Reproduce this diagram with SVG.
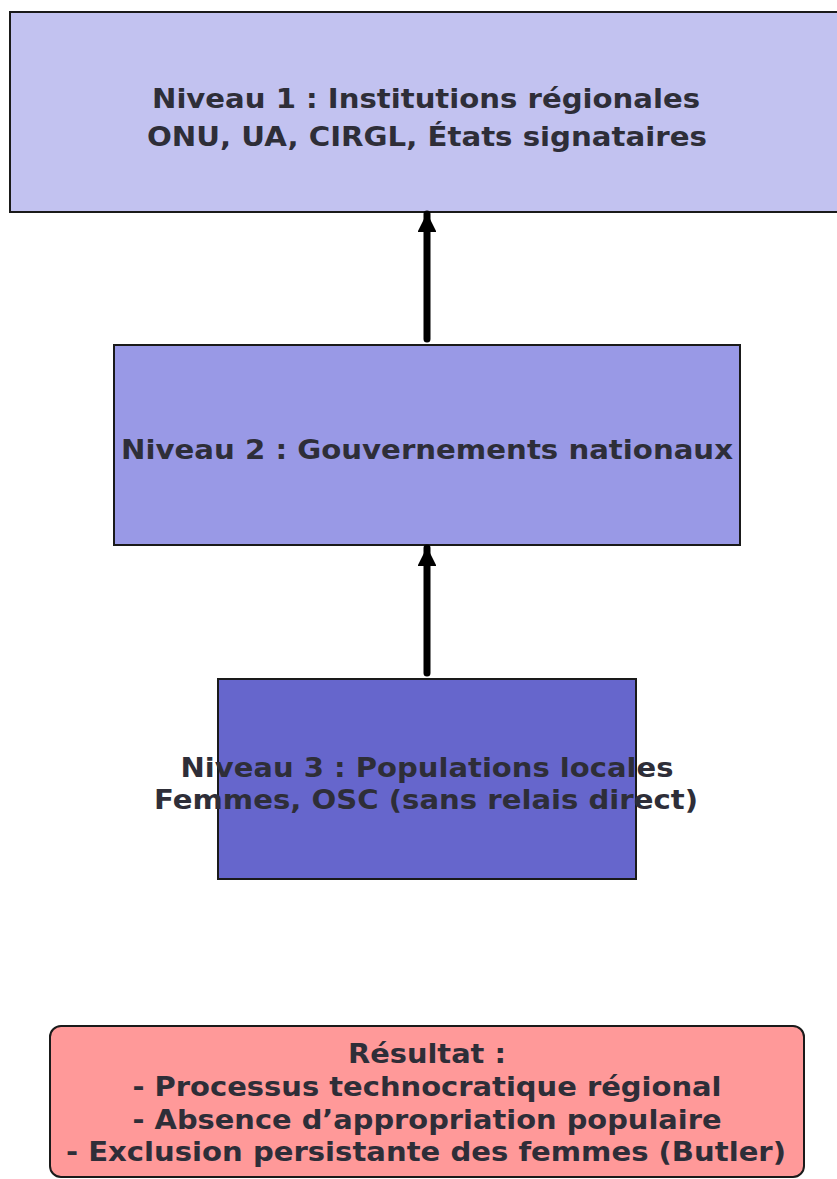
<svg xmlns="http://www.w3.org/2000/svg" width="837" height="1179" viewBox="0 0 837 1179">
<style>
.box{stroke:#1a1a1a;stroke-width:2}
.t{font-family:"DejaVu Sans",sans-serif;font-weight:bold;font-size:27px;fill:#2e2e38;text-anchor:middle}
.conn{stroke:#000;stroke-width:7;stroke-linecap:round;fill:none}
</style>
<defs>
<marker id="ah" viewBox="0 0 10 10" refX="9.5" refY="5" markerWidth="2.7" markerHeight="2.7" orient="auto" markerUnits="strokeWidth">
<path d="M0,0 L10,5 L0,10 z" fill="#000"/>
</marker>
</defs>
<rect width="837" height="1179" fill="#fff"/>
<g id="niveau1">
<rect class="box" x="10" y="12" width="840" height="200" fill="#c2c2f0"/>
<text class="t" x="426" y="108" textLength="548" lengthAdjust="spacingAndGlyphs">Niveau 1 : Institutions régionales</text>
<text class="t" x="427" y="146" textLength="560" lengthAdjust="spacingAndGlyphs">ONU, UA, CIRGL, États signataires</text>
</g>
<g id="niveau2">
<rect class="box" x="114" y="345" width="626" height="200" fill="#9999e6"/>
<text class="t" x="427" y="459" textLength="612" lengthAdjust="spacingAndGlyphs">Niveau 2 : Gouvernements nationaux</text>
</g>
<g id="niveau3">
<rect class="box" x="218" y="679" width="418" height="200" fill="#6666cc"/>
<text class="t" x="427" y="777" textLength="493" lengthAdjust="spacingAndGlyphs">Niveau 3 : Populations locales</text>
<text class="t" x="426" y="809" textLength="544" lengthAdjust="spacingAndGlyphs">Femmes, OSC (sans relais direct)</text>
</g>
<g id="resultat">
<rect class="box" x="50" y="1026" width="754" height="151" rx="11" fill="#ff9999"/>
<text class="t" x="427" y="1063" textLength="158" lengthAdjust="spacingAndGlyphs">Résultat :</text>
<text class="t" x="427" y="1096" textLength="589" lengthAdjust="spacingAndGlyphs">- Processus technocratique régional</text>
<text class="t" x="427" y="1129" textLength="589" lengthAdjust="spacingAndGlyphs">- Absence d’appropriation populaire</text>
<text class="t" x="426" y="1161" textLength="720" lengthAdjust="spacingAndGlyphs">- Exclusion persistante des femmes (Butler)</text>
</g>
<g id="connectors">
<line class="conn" x1="427" y1="339" x2="427" y2="214" marker-end="url(#ah)"/>
<line class="conn" x1="427" y1="673" x2="427" y2="548" marker-end="url(#ah)"/>
</g>
</svg>
